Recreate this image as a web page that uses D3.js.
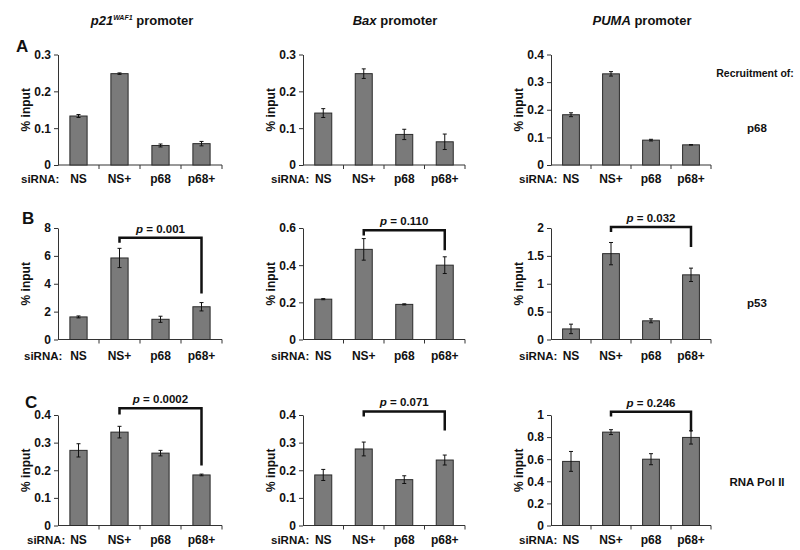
<!DOCTYPE html>
<html>
<head>
<meta charset="utf-8">
<script src="https://cdn.jsdelivr.net/npm/d3@7"></script>
<style>
  body { margin: 0; background: #fff; }
  svg text { font-family: "Liberation Sans", Arial, sans-serif; font-weight: bold; fill: #111; }
</style>
</head>
<body>
<svg id="chart" width="800" height="550"></svg>
<script>
// ---------- data ----------
const categories = ["NS", "NS+", "p68", "p68+"];
const promoterNames = ["p21", "Bax", "PUMA"];
const rowLetters = ["A", "B", "C"];
const recruitmentOf = ["p68", "p53", "RNA Pol II"];

// Row A: recruitment of p68
const p68_p21  = [0.133, 0.248, 0.053, 0.058];
const p68_p21E = [0.004, 0.002, 0.004, 0.006];
const p68_bax  = [0.141, 0.248, 0.083, 0.063];
const p68_baxE = [0.012, 0.013, 0.014, 0.021];
const p68_puma  = [0.182, 0.330, 0.090, 0.073];
const p68_pumaE = [0.007, 0.008, 0.003, 0.001];
// Row B: recruitment of p53
const p53_p21  = [1.62, 5.85, 1.45, 2.35];
const p53_p21E = [0.07, 0.69, 0.22, 0.30];
const p53_bax  = [0.217, 0.485, 0.189, 0.400];
const p53_baxE = [0.003, 0.058, 0.003, 0.045];
const p53_puma  = [0.19, 1.54, 0.335, 1.16];
const p53_pumaE = [0.085, 0.20, 0.035, 0.12];
// Row C: recruitment of RNA Pol II
const pol_p21  = [0.272, 0.338, 0.262, 0.183];
const pol_p21E = [0.024, 0.021, 0.010, 0.003];
const pol_bax  = [0.183, 0.277, 0.166, 0.237];
const pol_baxE = [0.020, 0.025, 0.014, 0.018];
const pol_puma  = [0.58, 0.845, 0.60, 0.797];
const pol_pumaE = [0.09, 0.022, 0.05, 0.06];

// y-axis tick values per row / column
const ticksA = [[0, 0.1, 0.2, 0.3], [0, 0.1, 0.2, 0.3], [0, 0.1, 0.2, 0.3, 0.4]];
const ticksB = [[0, 2, 4, 6, 8], [0, 0.2, 0.4, 0.6], [0, 0.5, 1, 1.5, 2]];
const ticksC = [[0, 0.1, 0.2, 0.3, 0.4], [0, 0.1, 0.2, 0.3, 0.4], [0, 0.2, 0.4, 0.6, 0.8, 1]];

// significance annotations (NS+ vs p68+), rows B and C
const pValuesB = ["0.001", "0.110", "0.032"];
const pValuesC = ["0.0002", "0.071", "0.246"];
const bracketTopB   = [7.3, 0.588, 2.02];
const bracketLeftB  = [6.95, 0.56, 1.93];
const bracketRightB = [3.3, 0.48, 1.66];
const bracketTopC   = [0.424, 0.413, 1.029];
const bracketLeftC  = [0.402, 0.395, 0.986];
const bracketRightC = [0.2175, 0.344, 0.85];

// ---------- layout ----------
const svg = d3.select("#chart");
const colX0 = [58, 303, 551];
const colX1 = [222, 465, 711];
const rowTopY = [54.5, 228, 415];
const rowZeroY = [165, 339.5, 525.5];
const labelDy = [14, 16, 14];
const siRnaX = [[21, 271, 519], [24, 271, 519], [27, 271, 519]];

const rows = [
  { vals: [p68_p21, p68_bax, p68_puma], errs: [p68_p21E, p68_baxE, p68_pumaE], ticks: ticksA },
  { vals: [p53_p21, p53_bax, p53_puma], errs: [p53_p21E, p53_baxE, p53_pumaE], ticks: ticksB,
    p: pValuesB, bt: bracketTopB, bl: bracketLeftB, br: bracketRightB },
  { vals: [pol_p21, pol_bax, pol_puma], errs: [pol_p21E, pol_baxE, pol_pumaE], ticks: ticksC,
    p: pValuesC, bt: bracketTopC, bl: bracketLeftC, br: bracketRightC }
];

const fmt = v => String(+v.toFixed(2));

rows.forEach((row, ri) => {
  row.vals.forEach((vals, ci) => {
    const errs = row.errs[ci];
    const ticks = row.ticks[ci];
    const x = d3.scaleBand().domain(categories).range([colX0[ci], colX1[ci]])
      .paddingInner(0.58).paddingOuter(0.29);
    const y = d3.scaleLinear().domain([0, d3.max(ticks)]).range([rowZeroY[ri], rowTopY[ri]]);
    const g = svg.append("g");

    // y axis
    const yAxis = d3.axisLeft(y).tickValues(ticks).tickFormat(fmt).tickSize(4).tickPadding(3).tickSizeOuter(0);
    const ya = g.append("g").attr("transform", `translate(${colX0[ci]},0)`).call(yAxis);
    ya.selectAll("path, line").attr("stroke", "#333").attr("stroke-width", 1);
    ya.selectAll("text").style("font-size", "12px").style("font-weight", "bold")
      .style("font-family", "'Liberation Sans', Arial, sans-serif").attr("fill", "#111");

    // x axis line with ticks at category boundaries
    const step = x.step();
    g.append("line").attr("x1", colX0[ci]).attr("x2", colX1[ci])
      .attr("y1", y(0)).attr("y2", y(0)).attr("stroke", "#333");
    categories.forEach((c, i) => {
      const bx = colX0[ci] + step * (i + 1);
      g.append("line").attr("x1", bx).attr("x2", bx).attr("y1", y(0)).attr("y2", y(0) + 4).attr("stroke", "#333");
    });

    // bars
    g.selectAll("rect.bar").data(vals).enter().append("rect")
      .attr("class", "bar")
      .attr("x", (d, i) => x(categories[i]))
      .attr("width", x.bandwidth())
      .attr("y", d => y(d))
      .attr("height", d => y(0) - y(d))
      .attr("fill", "#7a7a7a").attr("stroke", "#2b2b2b").attr("stroke-width", 1);

    // error bars
    vals.forEach((v, i) => {
      const cx = x(categories[i]) + x.bandwidth() / 2;
      const e = errs[i];
      g.append("line").attr("x1", cx).attr("x2", cx).attr("y1", y(v + e)).attr("y2", y(v - e))
        .attr("stroke", "#111").attr("stroke-width", 1);
      [v + e, v - e].forEach(w => {
        g.append("line").attr("x1", cx - 2).attr("x2", cx + 2).attr("y1", y(w)).attr("y2", y(w))
          .attr("stroke", "#111").attr("stroke-width", 1);
      });
    });

    // category labels
    const ly = y(0) + labelDy[ri] + 4;
    g.append("text").attr("x", siRnaX[ri][ci]).attr("y", ly).attr("font-size", 11.5).text("siRNA:");
    categories.forEach(c => {
      g.append("text").attr("x", x(c) + x.bandwidth() / 2).attr("y", ly)
        .attr("text-anchor", "middle").attr("font-size", 12).text(c);
    });

    // y label
    const ymid = (rowTopY[ri] + rowZeroY[ri]) / 2;
    g.append("text").attr("transform", `translate(${colX0[ci] - 28},${ymid}) rotate(-90)`)
      .attr("text-anchor", "middle").attr("font-size", 12).text("% input");

    // significance bracket
    if (row.p) {
      const xl = x("NS+") + x.bandwidth() / 2;
      const xr = x("p68+") + x.bandwidth() / 2;
      const path = d3.path();
      path.moveTo(xl, y(row.bl[ci]));
      path.lineTo(xl, y(row.bt[ci]));
      path.lineTo(xr, y(row.bt[ci]));
      path.lineTo(xr, y(row.br[ci]));
      g.append("path").attr("d", path.toString()).attr("fill", "none")
        .attr("stroke", "#111").attr("stroke-width", 2.5);
      const t = g.append("text").attr("x", (xl + xr) / 2).attr("y", y(row.bt[ci]) - 5)
        .attr("text-anchor", "middle").attr("font-size", 11.5);
      t.append("tspan").attr("font-style", "italic").text("p");
      t.append("tspan").text(" = " + row.p[ci]);
    }
  });
});

// column titles
const titleX = [142, 395, 642];
promoterNames.forEach((name, ci) => {
  const t = svg.append("text").attr("x", titleX[ci]).attr("y", 25)
    .attr("text-anchor", "middle").attr("font-size", 13);
  t.append("tspan").attr("font-style", "italic").text(name);
  if (name === "p21") {
    t.append("tspan").attr("font-style", "italic").attr("font-size", 7).attr("dy", -5).text("WAF1");
    t.append("tspan").attr("dy", 5).text(" promoter");
  } else {
    t.append("tspan").text(" promoter");
  }
});

// row letters
const letterPos = [[16, 52], [22, 224], [25, 408]];
rowLetters.forEach((l, i) => {
  svg.append("text").attr("x", letterPos[i][0]).attr("y", letterPos[i][1])
    .attr("font-size", 17).text(l);
});

// right-side labels
svg.append("text").attr("x", 755).attr("y", 77).attr("text-anchor", "middle")
  .attr("font-size", 10.5).text("Recruitment of:");
const recY = [132, 307, 486];
recruitmentOf.forEach((r, i) => {
  svg.append("text").attr("x", 757).attr("y", recY[i]).attr("text-anchor", "middle")
    .attr("font-size", 11.5).text(r);
});
</script>
</body>
</html>
